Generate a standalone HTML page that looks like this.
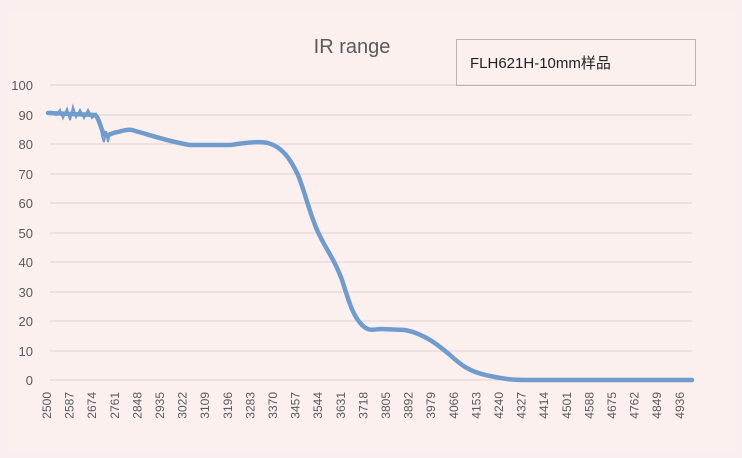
<!DOCTYPE html>
<html><head><meta charset="utf-8"><style>
body{margin:0;background:#fbeeee;}
svg{display:block}
text{font-family:"Liberation Sans","Noto Sans CJK SC",sans-serif;fill:#595959}
</style></head><body>
<svg width="742" height="458" xmlns="http://www.w3.org/2000/svg">
<rect width="742" height="458" fill="#fbeeee"/>
<rect x="6" y="10" width="730" height="440" fill="#fcf0ef"/>
<g stroke="#dcd0d0" stroke-width="1">
<line x1="50" x2="692" y1="85" y2="85"/><line x1="50" x2="692" y1="115" y2="115"/>
<line x1="50" x2="692" y1="144" y2="144"/><line x1="50" x2="692" y1="174" y2="174"/>
<line x1="50" x2="692" y1="203" y2="203"/><line x1="50" x2="692" y1="233" y2="233"/>
<line x1="50" x2="692" y1="262" y2="262"/><line x1="50" x2="692" y1="292" y2="292"/>
<line x1="50" x2="692" y1="321" y2="321"/><line x1="50" x2="692" y1="351" y2="351"/>
<line x1="50" x2="692" y1="380" y2="380"/>
</g>
<g font-size="13" text-anchor="end">
<text x="33" y="90">100</text><text x="33" y="120">90</text><text x="33" y="149">80</text>
<text x="33" y="179">70</text><text x="33" y="208">60</text><text x="33" y="238">50</text>
<text x="33" y="267">40</text><text x="33" y="297">30</text><text x="33" y="326">20</text>
<text x="33" y="356">10</text><text x="33" y="385">0</text>
</g>
<text x="352" y="53" font-size="20" text-anchor="middle">IR  range</text>
<rect x="456.5" y="39.5" width="239" height="46" fill="none" stroke="#bdb3b3"/>
<text x="470" y="68" font-size="15" style="fill:#222">FLH621H-10mm样品</text>
<g font-size="12" text-anchor="end">
<text transform="translate(51,392) rotate(-90)">2500</text>
<text transform="translate(73.6,392) rotate(-90)">2587</text>
<text transform="translate(96.2,392) rotate(-90)">2674</text>
<text transform="translate(118.8,392) rotate(-90)">2761</text>
<text transform="translate(141.4,392) rotate(-90)">2848</text>
<text transform="translate(164,392) rotate(-90)">2935</text>
<text transform="translate(186.6,392) rotate(-90)">3022</text>
<text transform="translate(209.2,392) rotate(-90)">3109</text>
<text transform="translate(231.8,392) rotate(-90)">3196</text>
<text transform="translate(254.4,392) rotate(-90)">3283</text>
<text transform="translate(277,392) rotate(-90)">3370</text>
<text transform="translate(299.6,392) rotate(-90)">3457</text>
<text transform="translate(322.2,392) rotate(-90)">3544</text>
<text transform="translate(344.8,392) rotate(-90)">3631</text>
<text transform="translate(367.4,392) rotate(-90)">3718</text>
<text transform="translate(390,392) rotate(-90)">3805</text>
<text transform="translate(412.6,392) rotate(-90)">3892</text>
<text transform="translate(435.2,392) rotate(-90)">3979</text>
<text transform="translate(457.8,392) rotate(-90)">4066</text>
<text transform="translate(480.4,392) rotate(-90)">4153</text>
<text transform="translate(503,392) rotate(-90)">4240</text>
<text transform="translate(525.6,392) rotate(-90)">4327</text>
<text transform="translate(548.2,392) rotate(-90)">4414</text>
<text transform="translate(570.8,392) rotate(-90)">4501</text>
<text transform="translate(593.4,392) rotate(-90)">4588</text>
<text transform="translate(616,392) rotate(-90)">4675</text>
<text transform="translate(638.6,392) rotate(-90)">4762</text>
<text transform="translate(661.2,392) rotate(-90)">4849</text>
<text transform="translate(683.8,392) rotate(-90)">4936</text>
</g>
<path fill="none" stroke="#6f9ccd" stroke-width="4.5" stroke-linejoin="round" stroke-linecap="round" d="M48,113 L95,115 C99,117 101,130 104,134 S112,132 118,132 C122,131 126,129 132,130 C150,135 170,142 190,145 L230,145 C245,143 258,141 268,143 C282,147 290,158 298,175 C305,192 310,215 318,232 C325,248 335,260 342,280 C348,298 352,315 362,325 C368,331 372,330 380,329 L405,330 C425,334 438,345 450,355 C462,366 470,372 490,376 C505,379 512,380 525,380 L692,380"/>
<polyline fill="none" stroke="#6f9ccd" stroke-width="2" points="50,111 56,115 60,110 63,118 67,109 70,120 73,107 76,117 80,110 84,118 88,110 92,118 96,114 100,124 102,136 104,142 106,131 108,142 110,132"/>
</svg>
</body></html>
